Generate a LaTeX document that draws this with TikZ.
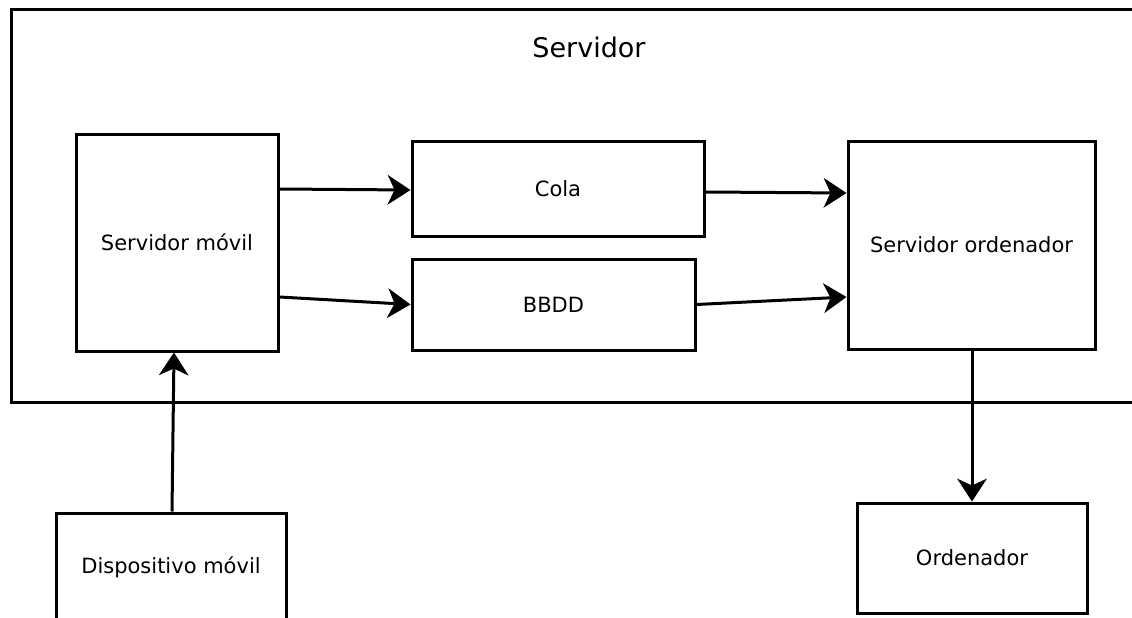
\documentclass[tikz,border=0pt]{standalone}
\usepackage{fontspec}
\setmainfont{DejaVu Sans}
\usetikzlibrary{arrows.meta}

\tikzset{
  box/.style={draw=black, line width=3pt, rectangle, inner sep=0pt,
              font=\fontsize{21}{25}\selectfont},
  link/.style={line width=3pt,
               -{Stealth[length=23pt, width=30pt, inset=7pt, line width=0pt]}},
  title/.style={font=\fontsize{27}{32}\selectfont}
}

\begin{document}
\begin{tikzpicture}[x=1pt, y=-1pt]
  \useasboundingbox (0,0) rectangle (1132,618);
  \clip (0,0) rectangle (1132,618);

  % server container
  \node[box, minimum width=1134pt, minimum height=392pt] (srv) at (578,206) {};
  \node[title] (srvlabel) at (589,47) {Servidor};

  % components inside the server
  \node[box, minimum width=202pt, minimum height=217pt] (sm)   at (177,242.5) {Servidor móvil};
  \node[box, minimum width=292pt, minimum height=95pt]  (cola) at (558,188.5) {Cola};
  \node[box, minimum width=283pt, minimum height=91pt]  (bbdd) at (553.5,304.5) {BBDD};
  \node[box, minimum width=247pt, minimum height=208pt] (so)   at (971.5,245) {Servidor ordenador};

  % external devices
  \node[box, minimum width=230pt, minimum height=108pt] (dm)  at (171,567) {Dispositivo móvil};
  \node[box, minimum width=230pt, minimum height=110pt] (ord) at (972,558) {Ordenador};

  % data flow
  \draw[link] ([yshift=53.5pt]sm.east)  -- ([yshift=-1.5pt]cola.west);
  \draw[link] ([yshift=-54.5pt]sm.east) -- (bbdd.west);
  \draw[link] ([yshift=-3.5pt]cola.east) -- ([yshift=52pt]so.west);
  \draw[link] (bbdd.east) -- ([yshift=-52pt]so.west);
  \draw[link] ([xshift=0.5pt]so.south) -- (ord.north);
  \draw[link] ([xshift=1pt]dm.north) -- ([xshift=-3pt]sm.south);
\end{tikzpicture}
\end{document}
